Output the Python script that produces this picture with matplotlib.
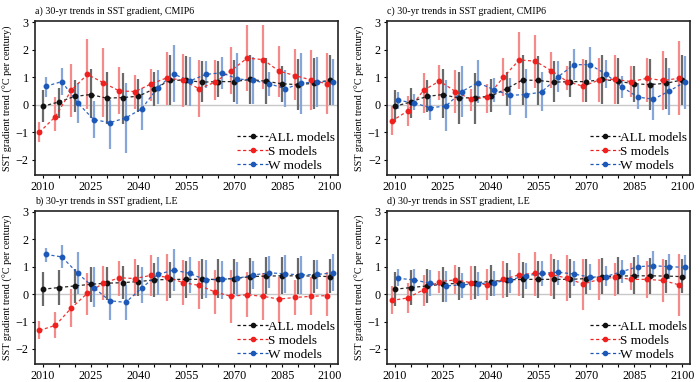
import numpy as np
import matplotlib
matplotlib.use("Agg")
import matplotlib.pyplot as plt
from matplotlib.lines import Line2D

plt.rcParams['font.family'] = ['Liberation Serif', 'DejaVu Serif']

years = np.arange(2010, 2101, 5)

# CMIP6 (panels a, c)
cmip_all = [-0.06, 0.10, 0.30, 0.37, 0.24, 0.26, 0.31, 0.58, 0.90, 0.88, 0.82, 0.84, 0.84, 0.92, 0.85, 0.76, 0.73, 0.78, 0.90]
cmip_all_hi = [0.54, 0.62, 0.88, 1.28, 1.18, 1.14, 0.92, 1.20, 1.80, 1.78, 1.57, 1.60, 1.62, 1.82, 1.70, 1.40, 1.66, 1.70, 1.80]
cmip_all_lo = [-0.63, -0.47, -0.27, -0.50, -0.69, -0.69, -0.27, -0.06, 0.00, 0.00, 0.10, 0.27, 0.10, 0.04, 0.04, 0.10, -0.18, -0.15, 0.00]

# panel a: S / W models
a_s = [-1.00, -0.43, 0.53, 1.10, 0.80, 0.50, 0.48, 0.76, 0.98, 0.88, 0.58, 0.82, 1.24, 1.69, 1.64, 1.22, 1.06, 0.90, 0.76]
a_s_hi = [-0.63, 0.28, 1.48, 2.37, 2.05, 1.38, 1.07, 1.30, 1.93, 1.85, 1.62, 1.62, 2.08, 2.90, 2.90, 2.15, 2.03, 2.00, 1.88]
a_s_lo = [-1.35, -0.95, -0.43, -0.17, -0.43, -0.35, -0.15, 0.14, 0.00, -0.10, -0.45, 0.16, 0.38, 0.50, 0.58, 0.28, 0.18, -0.18, -0.33]
a_w = [0.67, 0.84, 0.06, -0.54, -0.65, -0.48, -0.15, 0.62, 1.12, 0.86, 1.10, 1.16, 0.94, 0.88, 0.76, 0.58, 0.78, 0.84, 0.84]
a_w_hi = [1.00, 1.33, 0.78, 0.13, 0.16, 0.78, 0.62, 1.27, 2.18, 1.72, 1.57, 1.72, 1.87, 1.74, 1.20, 1.27, 1.87, 1.74, 1.67]
a_w_lo = [0.28, 0.34, -0.66, -1.19, -1.59, -1.75, -0.93, 0.04, 0.10, -0.03, 0.62, 0.58, 0.04, 0.02, 0.30, -0.08, -0.33, -0.10, 0.00]

# panel c: S / W models
c_s = [-0.60, -0.23, 0.52, 0.86, 0.48, 0.19, 0.28, 1.00, 1.63, 1.58, 1.24, 0.84, 0.67, 0.90, 0.92, 0.84, 0.96, 0.88, 0.96]
c_s_hi = [-0.06, 0.30, 1.14, 1.46, 1.27, 0.58, 0.76, 1.70, 2.63, 2.53, 1.90, 1.42, 1.66, 1.70, 1.81, 1.41, 1.70, 1.96, 2.33]
c_s_lo = [-1.10, -0.78, -0.30, 0.16, -0.30, -0.23, -0.30, 0.30, 0.58, 0.62, 0.62, 0.52, 0.10, 0.10, 0.04, 0.28, 0.10, -0.20, -0.39]
c_w = [0.16, 0.07, -0.11, -0.05, 0.48, 0.80, 0.55, 0.34, 0.37, 0.46, 1.00, 1.45, 1.46, 1.12, 0.66, 0.28, 0.20, 0.50, 0.84]
c_w_hi = [0.46, 0.40, 0.34, 0.88, 1.40, 1.62, 0.98, 0.98, 1.30, 1.18, 1.57, 2.03, 2.10, 1.62, 1.06, 0.70, 0.78, 1.34, 1.78]
c_w_lo = [-0.15, -0.20, -0.55, -0.95, -0.45, 0.06, 0.10, -0.39, -0.50, -0.23, 0.46, 0.88, 0.88, 0.62, 0.24, -0.15, -0.57, -0.39, -0.14]

# LE (panels b, d)
le_all = [0.18, 0.24, 0.30, 0.36, 0.40, 0.42, 0.46, 0.52, 0.54, 0.54, 0.54, 0.54, 0.57, 0.64, 0.66, 0.67, 0.67, 0.66, 0.64]
le_all_hi = [0.82, 0.88, 0.92, 0.98, 1.00, 1.03, 1.07, 1.14, 1.18, 1.22, 1.27, 1.27, 1.27, 1.33, 1.36, 1.37, 1.33, 1.25, 1.30]
le_all_lo = [-0.45, -0.39, -0.33, -0.27, -0.20, -0.18, -0.08, -0.11, -0.15, -0.15, -0.18, -0.15, 0.00, 0.00, 0.00, 0.00, 0.00, 0.03, 0.06]

# panel b: S / W models
b_s = [-1.32, -1.14, -0.50, 0.03, 0.40, 0.60, 0.57, 0.69, 0.62, 0.42, 0.32, 0.08, -0.08, -0.02, -0.08, -0.18, -0.12, -0.08, -0.05]
b_s_hi = [-0.99, -0.66, 0.20, 0.76, 1.03, 1.20, 1.28, 1.42, 1.45, 1.24, 1.20, 0.88, 0.88, 0.82, 0.76, 0.64, 0.52, 0.62, 0.82]
b_s_lo = [-1.65, -1.60, -1.20, -0.75, -0.20, -0.06, -0.08, -0.08, -0.24, -0.39, -0.55, -0.72, -1.05, -0.83, -0.96, -1.05, -0.75, -0.75, -0.80]
b_w = [1.45, 1.36, 0.76, 0.24, -0.24, -0.30, 0.22, 0.72, 0.88, 0.76, 0.52, 0.54, 0.58, 0.70, 0.78, 0.74, 0.70, 0.72, 0.78]
b_w_hi = [1.70, 1.78, 1.54, 1.00, 0.34, 0.34, 1.00, 1.36, 1.66, 1.36, 1.24, 1.22, 1.18, 1.22, 1.38, 1.42, 1.38, 1.24, 1.46]
b_w_lo = [1.18, 0.94, 0.00, -0.47, -0.93, -0.96, -0.33, -0.03, 0.10, 0.04, -0.15, -0.18, -0.06, 0.18, 0.22, 0.04, 0.00, 0.18, 0.10]

# panel d: S / W models
d_s = [-0.23, -0.14, 0.16, 0.46, 0.52, 0.42, 0.34, 0.54, 0.71, 0.76, 0.72, 0.58, 0.37, 0.54, 0.62, 0.54, 0.54, 0.50, 0.34]
d_s_hi = [0.28, 0.40, 0.70, 0.86, 1.06, 1.03, 0.92, 1.20, 1.50, 1.54, 1.48, 1.42, 1.30, 1.27, 1.12, 1.12, 1.20, 1.30, 1.45]
d_s_lo = [-0.71, -0.69, -0.43, 0.06, 0.00, -0.20, -0.20, -0.15, -0.06, -0.08, -0.06, -0.26, -0.57, -0.20, -0.06, 0.16, -0.15, -0.30, -0.78]
d_w = [0.58, 0.52, 0.40, 0.30, 0.34, 0.38, 0.42, 0.52, 0.67, 0.76, 0.80, 0.74, 0.62, 0.64, 0.82, 1.00, 1.04, 1.00, 0.98]
d_w_hi = [0.92, 0.92, 0.88, 0.84, 0.76, 0.82, 0.86, 0.90, 1.12, 1.22, 1.24, 1.22, 1.10, 1.03, 1.24, 1.42, 1.57, 1.45, 1.42]
d_w_lo = [0.28, 0.10, -0.06, -0.30, -0.15, -0.06, -0.06, 0.06, 0.18, 0.30, 0.34, 0.28, 0.16, 0.28, 0.40, 0.58, 0.58, 0.54, 0.54]

titles = ["a) 30-yr trends in SST gradient, CMIP6",
          "c) 30-yr trends in SST gradient, CMIP6",
          "b) 30-yr trends in SST gradient, LE",
          "d) 30-yr trends in SST gradient, LE"]
xticks = [2010, 2025, 2040, 2055, 2070, 2085, 2100]
yticks = [-2, -1, 0, 1, 2, 3]
labels = ["ALL models", "S models", "W models"]

panels = [
    (titles[0], (cmip_all, cmip_all_lo, cmip_all_hi), (a_s, a_s_lo, a_s_hi), (a_w, a_w_lo, a_w_hi)),
    (titles[1], (cmip_all, cmip_all_lo, cmip_all_hi), (c_s, c_s_lo, c_s_hi), (c_w, c_w_lo, c_w_hi)),
    (titles[2], (le_all, le_all_lo, le_all_hi), (b_s, b_s_lo, b_s_hi), (b_w, b_w_lo, b_w_hi)),
    (titles[3], (le_all, le_all_lo, le_all_hi), (d_s, d_s_lo, d_s_hi), (d_w, d_w_lo, d_w_hi)),
]
rects = [
    [0.050, 0.542, 0.433, 0.403],
    [0.553, 0.542, 0.433, 0.403],
    [0.050, 0.047, 0.433, 0.401],
    [0.553, 0.047, 0.433, 0.401],
]

pt_colors = ["#111111", "#f0201e", "#1c58b8"]
bar_colors = ["#6a6a6a", "#f48a8a", "#86a6da"]
offsets = [0.0, -1.0, 1.0]
dash = (0, (2.5, 2))

fig = plt.figure(figsize=(7.0, 3.82), dpi=100)
for rect, (title, *series) in zip(rects, panels):
    ax = fig.add_axes(rect)
    ax.axhline(0, color="#c8c8c8", lw=1.0, zorder=0)
    handles = []
    for (vals, lo, hi), pc, bc, off in zip(series, pt_colors, bar_colors, offsets):
        x = years + off
        v = np.array(vals)
        ax.vlines(x, lo, hi, color=bc, lw=1.6, zorder=1)
        ax.plot(x, v, ls=dash, color=pc, lw=0.9, alpha=0.9, zorder=2)
        ax.plot(x, v, ls="none", marker="o", ms=3.2, color=pc, zorder=3)
        handles.append(Line2D([], [], color=pc, ls=dash, lw=0.9,
                              marker="o", ms=3.0))
    ax.set_xlim(2007.6, 2102.5)
    ax.set_ylim(-2.55, 3.04)
    ax.set_xticks(xticks)
    ax.set_xticks(np.arange(2010, 2101, 5), minor=True)
    ax.set_yticks(yticks)
    ax.tick_params(axis="both", which="both", direction="out", labelsize=8.7,
                   length=2.5, width=0.8, pad=2)
    for s in ax.spines.values():
        s.set_linewidth(1.2)
        s.set_color("#222222")
    ax.set_ylabel("SST gradient trend (°C per century)", fontsize=7.3, labelpad=2)
    ax.set_title(title, fontsize=7.2, loc="left", pad=5)
    ax.legend(handles, labels, loc="lower right", frameon=False, fontsize=9.5,
              handlelength=2.3, handletextpad=0.0, labelspacing=0.12,
              borderaxespad=0.1, borderpad=0.15)

fig.savefig("out.png", dpi=100)
